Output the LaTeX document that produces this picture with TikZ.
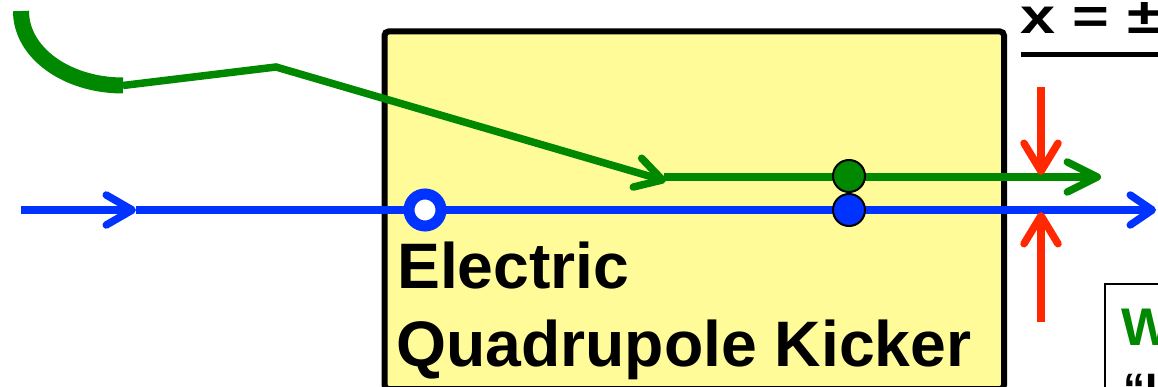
\documentclass[tikz,border=0pt]{standalone}
\usepackage{fontspec}
\setmainfont{Liberation Sans}
\usetikzlibrary{arrows.meta}
\definecolor{kgreen}{RGB}{0,136,0}
\definecolor{kblue}{RGB}{0,51,255}
\definecolor{kred}{RGB}{255,40,0}
\definecolor{kyellow}{RGB}{255,251,153}
\begin{document}
\begin{tikzpicture}[x=1pt,y=-1pt,
  beam/.style={line width=7.5pt},
  chevron/.style={-{Straight Barb[length=#1,width=30pt,round]}},
  chevron/.default=24pt,
  dotnode/.style={circle,draw=black,line width=2pt,inner sep=0pt,minimum size=32pt},
  bigtext/.style={font=\bfseries\fontsize{64.3}{76}\selectfont,inner sep=0pt,anchor=base west}
]
\useasboundingbox (0,0) rectangle (1158,387);
\clip (0,0) rectangle (1158,387);

% kicker box
\node[draw=black,line width=6pt,fill=kyellow,rounded corners=4pt,
      minimum width=619.5pt,minimum height=357.5pt,inner sep=0pt,anchor=north west]
      (kicker) at (381.5,28.5) {};

% labels in box
\node[bigtext] (lab1) at (397,288) {Electric};
\node[bigtext] (lab2) at (396,366) {Quadrupole Kicker};

% coordinates
\coordinate (g0) at (21,11);
\coordinate (g1) at (123,85.5);
\coordinate (g2) at (276,67);
\coordinate (g3) at (666,181);
\coordinate (g4) at (664,177);
\coordinate (g5) at (1101,177);
\coordinate (b0) at (21,210);
\coordinate (b1) at (136,210);
\coordinate (b2) at (1156,210);
\coordinate (r0) at (1041,87);
\coordinate (r1) at (1041,175);
\coordinate (r2) at (1041,322);
\coordinate (r3) at (1041,212);

% green injected beam
\draw[kgreen,line width=16pt] (g0) .. controls (21,53) and (67,85.5) .. (g1);
\draw[kgreen,beam,chevron=26pt] (g1) -- (g2) -- (g3);
\draw[kgreen,beam,chevron=30pt] (g4) -- (g5);

% blue stored beam
\draw[kblue,beam,chevron=26pt] (b0) -- (b1);
\draw[kblue,beam,chevron=22pt] (b1) -- (b2);

% red arrows
\draw[kred,beam,-{Straight Barb[length=28pt,width=34pt,round]}] (r0) -- (r1);
\draw[kred,beam,-{Straight Barb[length=28pt,width=34pt,round]}] (r2) -- (r3);

% dots
\node[circle,draw=kblue,line width=11pt,fill=white,inner sep=0pt,minimum size=32pt] (open) at (425,210) {};
\node[dotnode,fill=kgreen] (gdot) at (849,176) {};
\node[dotnode,fill=kblue] (bdot) at (849,210) {};

% top right label
\node[inner sep=0pt,anchor=base west,font=\bfseries\fontsize{50}{56}\selectfont] (xlab) at (1020,34)
  {\scalebox{1.26}[1]{x = ±}};
\coordinate (u0) at (1021,54.5);
\coordinate (u1) at (1160,54.5);
\draw[black,line width=5pt] (u0) -- (u1);

% bottom right box
\node[draw=black,line width=1.8pt,fill=white,minimum width=120pt,minimum height=150pt,
      inner sep=0pt,anchor=north west] (why) at (1104,283) {};
\node[inner sep=0pt,anchor=base west,text=kgreen,font=\bfseries\fontsize{53}{60}\selectfont] (wlab) at (1121,345) {W};
\node[inner sep=0pt,anchor=base west,font=\bfseries\fontsize{44}{50}\selectfont] (qlab) at (1123,404) {“I};
\end{tikzpicture}
\end{document}
